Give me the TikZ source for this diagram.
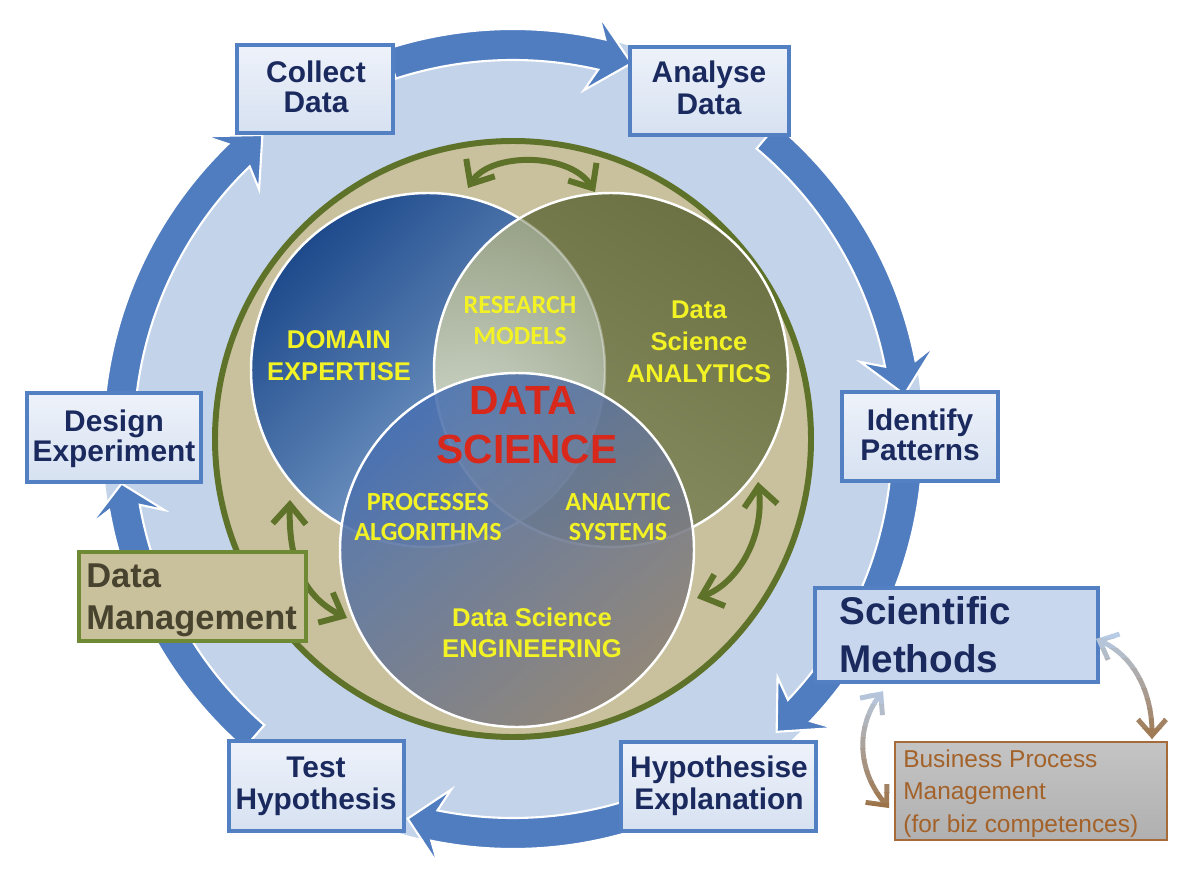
\documentclass[tikz,border=0pt]{standalone}
\usepackage{fontspec}
\setmainfont{Liberation Sans}
\newfontfamily\calfont{Carlito}
\usetikzlibrary{arrows.meta,fit}

\definecolor{bgblue}{HTML}{C3D3EA}
\definecolor{ringblue}{HTML}{4F7DC0}
\definecolor{khaki}{HTML}{C9C19D}
\definecolor{olivedark}{HTML}{5E7229}
\definecolor{navy}{HTML}{1B2A5E}
\definecolor{boxline}{HTML}{5380C2}
\definecolor{boxfillA}{HTML}{EEF2FA}
\definecolor{boxfillB}{HTML}{D6E1F1}
\definecolor{scifill}{HTML}{C8D7ED}
\definecolor{dmfill}{HTML}{C9C19B}
\definecolor{dmline}{HTML}{6E8A35}
\definecolor{dmtextc}{HTML}{48432F}
\definecolor{bpmfillA}{HTML}{C4C4C4}
\definecolor{bpmfillB}{HTML}{B0B0B0}
\definecolor{bpmline}{HTML}{A66B3B}
\definecolor{bpmtextc}{HTML}{A3622A}
\definecolor{vyellow}{HTML}{F2F224}
\definecolor{vred}{HTML}{D8281C}
\definecolor{domdark}{HTML}{1E4A8C}
\definecolor{domlight}{HTML}{93B4D8}
\definecolor{anadark}{HTML}{6C7243}
\definecolor{analight}{HTML}{8A9064}
\definecolor{lenslight}{HTML}{D0D8CB}
\definecolor{lensdark}{HTML}{97A186}
\definecolor{engtop}{HTML}{4870B2}
\definecolor{engbot}{HTML}{8A7F76}
\definecolor{linkblue}{HTML}{B8CCE6}
\definecolor{linkbrown}{HTML}{9C7246}

% curved band arrow on the outer ring: start angle, head base angle, tip angle
\newcommand\ringarrow[3]{%
  \path[ringarrowstyle] (#1:410) arc[start angle=#1, end angle=#2, radius=410]
    -- ({#2-1.5}:432) -- (#3:394) -- ({#2-1.5}:356) -- (#2:379)
    arc[start angle=#2, end angle=#1, radius=379] -- cycle;}

\tikzset{
  ringarrowstyle/.style={fill=ringblue, draw=white, line width=1.2pt, line join=miter},
  pbox/.style={draw=boxline, line width=2pt, top color=boxfillA, bottom color=boxfillB, inner sep=0pt},
  scibox/.style={draw=boxline, line width=2pt, fill=scifill, inner sep=0pt},
  dmbox/.style={draw=dmline, line width=2.2pt, fill=dmfill, inner sep=0pt},
  bpmbox/.style={draw=bpmline, line width=1.4pt, top color=bpmfillA, bottom color=bpmfillB, inner sep=0pt},
  ptext/.style={font=\fontsize{17}{17}\selectfont\bfseries, text=navy, inner sep=0pt, anchor=base},
  scitext/.style={font=\fontsize{22}{22}\selectfont\bfseries, text=navy, inner sep=0pt, anchor=base west},
  dmtext/.style={font=\fontsize{19.6}{19.6}\selectfont\bfseries, text=dmtextc, inner sep=0pt, anchor=base west},
  bpmtext/.style={font=\fontsize{13.9}{13.9}\selectfont, text=bpmtextc, inner sep=0pt, anchor=base west},
  vtext/.style={font=\fontsize{14.6}{14.6}\selectfont\bfseries, text=vyellow, inner sep=0pt, anchor=base},
  vcal/.style={font=\calfont\fontsize{14.9}{14.9}\selectfont\bfseries, text=vyellow, inner sep=0pt, anchor=base},
  vbig/.style={font=\fontsize{23.2}{23.2}\selectfont\bfseries, text=vred, inner sep=0pt, anchor=base},
  garrow/.style={draw=olivedark, line width=3.4pt,
    {Straight Barb[length=11pt,width=19pt]}-{Straight Barb[length=11pt,width=19pt]}},
  linkarrow/.style={line width=2.8pt,
    {Straight Barb[length=9pt,width=16pt]}-{Straight Barb[length=9pt,width=16pt]}},
}

\begin{document}
\begin{tikzpicture}[x=0.02cm, y=-0.02cm]
\useasboundingbox (0,0) rectangle (1202,868);
\fill[white] (0,0) rectangle (1202,868);

% light blue disc and the cycle of ring arrows
\fill[bgblue] (513,439) circle[radius=410];
\begin{scope}[shift={(513,439)}]
  \ringarrow{-108}{-77}{-72.5}
  \ringarrow{-50}{-11}{-6.5}
  \ringarrow{-2}{43.5}{48}
  \ringarrow{70}{101.5}{105.5}
  \ringarrow{131}{170}{173.5}
  \ringarrow{-176}{-134}{-129.5}
\end{scope}

% khaki inner disc
\draw[olivedark, line width=3.4pt, fill=khaki] (513,439) circle[radius=298];

% Venn circles
\coordinate (domC) at (428,370);
\coordinate (anaC) at (611,370);
\coordinate (engC) at (517,550);
\shade[top color=domdark, bottom color=domlight, shading angle=45] (domC) circle[radius=177];
\draw[white, line width=1.4pt] (domC) circle[radius=177];
\shade[top color=anadark, bottom color=analight, shading angle=-30] (anaC) circle[radius=177];
\begin{scope}
  \clip (domC) circle[radius=177];
  \clip (anaC) circle[radius=177];
  \fill[lensdark] (400,150) rectangle (650,600);
  \shade[inner color=lenslight, outer color=lensdark] (465,440) circle[radius=230];
\end{scope}
\begin{scope}
  \clip (anaC) circle[radius=177];
  \draw[white, opacity=0.35, line width=1.4pt] (domC) circle[radius=177];
\end{scope}
\draw[white, line width=1.4pt] (anaC) circle[radius=177];
\shade[top color=engtop, bottom color=engbot, shading angle=40, opacity=0.88] (engC) circle[radius=177];
\draw[white, line width=1.4pt] (engC) circle[radius=177];

% Venn labels
\node[vtext] (dom1) at (339,348) {DOMAIN};
\node[vtext] (dom2) at (339,380) {EXPERTISE};
\node[vcal] (res1) at (520,313) {RESEARCH};
\node[vcal] (res2) at (520,344) {MODELS};
\node[vtext] (ana1) at (699,318) {Data};
\node[vtext] (ana2) at (699,350) {Science};
\node[vtext] (ana3) at (699,382) {ANALYTICS};
\node[vbig] (ds1) at (523,414) {DATA};
\node[vbig] (ds2) at (527,463) {SCIENCE};
\node[vcal] (proc1) at (428,510) {PROCESSES};
\node[vcal] (proc2) at (428,540) {ALGORITHMS};
\node[vcal] (asys1) at (618,510) {ANALYTIC};
\node[vcal] (asys2) at (618,540) {SYSTEMS};
\node[vtext] (eng1) at (532,626) {Data Science};
\node[vtext] (eng2) at (532,657) {ENGINEERING};

% green double arrows inside the khaki ring
\coordinate (gTopL) at (468,188);
\coordinate (gTopR) at (595,192);
\coordinate (gRtTop) at (758,482);
\coordinate (gRtBot) at (697,598);
\coordinate (gLfTop) at (290,500);
\coordinate (gLfBot) at (347,618);
\draw[garrow] (gTopL) .. controls (490,152) and (570,152) .. (gTopR);
\draw[garrow] (gRtBot) .. controls (735,585) and (765,540) .. (gRtTop);
\draw[garrow] (gLfBot) .. controls (310,600) and (288,570) .. (gLfTop);

% process step boxes
\node[pbox, fit={(237,45)(393,133)}] (collect) {};
\node[pbox, fit={(630,47)(789,135)}] (analyse) {};
\node[pbox, fit={(842,392)(998,481)}] (identify) {};
\node[pbox, fit={(621,742)(816,831)}] (hypothesise) {};
\node[pbox, fit={(229,741)(404,831)}] (test) {};
\node[pbox, fit={(27,393)(201,482)}] (design) {};
\node[scibox, fit={(815,588)(1098,682)}] (sci) {};
\node[dmbox, fit={(79,552)(306,641)}] (dm) {};
\node[bpmbox, fit={(895,742)(1167,840)}] (bpm) {};

\node[ptext] (collect1) at (316,83) {Collect};
\node[ptext] (collect2) at (316,113) {Data};
\node[ptext] (analyse1) at (709,83) {Analyse};
\node[ptext] (analyse2) at (709,115) {Data};
\node[ptext] (identify1) at (920,430) {Identify};
\node[ptext] (identify2) at (920,460) {Patterns};
\node[ptext] (design1) at (114,431) {Design};
\node[ptext] (design2) at (114,461) {Experiment};
\node[ptext] (test1) at (316,777) {Test};
\node[ptext] (test2) at (316,809) {Hypothesis};
\node[ptext] (hypo1) at (719,777) {Hypothesise};
\node[ptext] (hypo2) at (719,809) {Explanation};
\node[scitext] (sci1) at (839,624) {Scientific};
\node[scitext] (sci2) at (839,672) {Methods};
\node[dmtext] (dm1) at (86,587) {Data};
\node[dmtext] (dm2) at (86,629) {Management};
\node[bpmtext] (bpm1) at (903,767) {Business Process};
\node[bpmtext] (bpm2) at (903,799) {Management};
\node[bpmtext] (bpm3) at (903,832) {(for biz competences)};

% links between Scientific Methods and Business Process Management,
% fading from blue (top) to brown (bottom)
\coordinate (lkLtop) at (883,691);
\coordinate (lkLbot) at (889,808);
\coordinate (lkRtop) at (1096,639);
\coordinate (lkRbot) at (1152,739);
\foreach \i in {0,...,11}{
  \pgfmathtruncatemacro\pc{100-\i*9}
  \begin{scope}
    \clip (820,{682+\i*11}) rectangle (930,{682+\i*11+11.6});
    \draw[linkarrow, draw=linkblue!\pc!linkbrown] (lkLbot) .. controls (858,772) and (855,728) .. (lkLtop);
  \end{scope}
  \begin{scope}
    \clip (1080,{628+\i*10}) rectangle (1190,{628+\i*10+10.6});
    \draw[linkarrow, draw=linkblue!\pc!linkbrown] (lkRbot) .. controls (1152,690) and (1132,655) .. (lkRtop);
  \end{scope}
}
\end{tikzpicture}
\end{document}
